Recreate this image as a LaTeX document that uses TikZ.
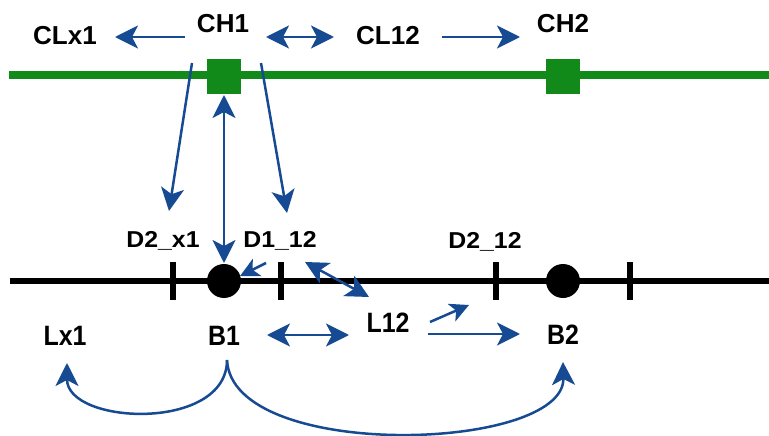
\documentclass[tikz,border=0pt]{standalone}
\usepackage{fontspec}
\setmainfont{Liberation Sans}
\usetikzlibrary{arrows.meta}
\definecolor{linkblue}{RGB}{22,74,146}
\definecolor{chgreen}{RGB}{18,138,26}
\begin{document}
\begin{tikzpicture}[x=1pt,y=-1pt,
  toplabel/.style={anchor=base,inner sep=0pt,font=\fontsize{26}{30}\selectfont\bfseries},
  midlabel/.style={anchor=base,inner sep=0pt,xscale=1.08,font=\fontsize{23}{28}\selectfont\bfseries},
  botlabel/.style={anchor=base,inner sep=0pt,xscale=0.89,font=\fontsize{28}{32}\selectfont\bfseries},
  link/.style={draw=linkblue,line width=2.5pt,-{Stealth[length=23pt,width=23pt,inset=6pt]}},
  dlink/.style={draw=linkblue,line width=2.5pt,{Stealth[length=23pt,width=23pt,inset=6pt]}-{Stealth[length=23pt,width=23pt,inset=6pt]}},
  slink/.style={draw=linkblue,line width=2.5pt,-{Stealth[length=19pt,width=19pt,inset=5pt]}},
  chbox/.style={fill=chgreen,minimum width=34pt,minimum height=35pt,inner sep=0pt},
  bus/.style={circle,fill=black,minimum size=34pt,inner sep=0pt},
  tick/.style={line width=6pt}]
\useasboundingbox (0,0) rectangle (769,436);

% lines
\draw[chgreen,line width=8pt] (9,75) -- (769,75);
\draw[black,line width=6pt] (10,281) -- (769,281);

% channel boxes
\node[chbox] (ch1box) at (224,76.5) {};
\node[chbox] (ch2box) at (563,76.5) {};

% segment ticks and buses
\draw[tick] (173,262) -- (173,300);
\draw[tick] (281,262) -- (281,300);
\draw[tick] (496,262) -- (496,300);
\draw[tick] (630,262) -- (630,300);
\node[bus] (b1dot) at (224,281) {};
\node[bus] (b2dot) at (563,281) {};

% labels
\node[toplabel] (clx1) at (65,45) {CLx1};
\node[toplabel] (ch1) at (223,33) {CH1};
\node[toplabel] (cl12) at (388,45) {CL12};
\node[toplabel] (ch2) at (563,33) {CH2};
\node[midlabel] (d2x1) at (163,247) {D2\_x1};
\node[midlabel] (d112) at (280,247) {D1\_12};
\node[midlabel] (d212) at (485,248) {D2\_12};
\node[botlabel] (lx1) at (65,345) {Lx1};
\node[botlabel] (b1) at (224,345) {B1};
\node[botlabel] (l12) at (388,332) {L12};
\node[botlabel] (b2) at (563,344) {B2};

% connector ends
\coordinate (ch1w) at (185,37);
\coordinate (clx1e) at (115,37);
\coordinate (ch1e) at (266,37);
\coordinate (cl12w) at (334,37);
\coordinate (cl12e) at (442,37);
\coordinate (ch2w) at (520,37);
\coordinate (gl) at (192,63);
\coordinate (gr) at (261,63);
\coordinate (d2x1t) at (169,211);
\coordinate (d112t) at (287,213);
\coordinate (ch1s) at (224,95);
\coordinate (b1n) at (224,263);
\coordinate (d112s) at (266,263);
\coordinate (b1ne) at (240,276);
\coordinate (d112e) at (305,262);
\coordinate (l12n) at (369,297);
\coordinate (b1e) at (267,335);
\coordinate (l12w) at (349,335);
\coordinate (l12e) at (428,334);
\coordinate (b2w) at (520,334);
\coordinate (l12ne) at (430,322);
\coordinate (d212s) at (469,305);
\coordinate (b1s) at (227,360);
\coordinate (lx1s) at (67,363);
\coordinate (b2s) at (563,362);

% connectors
\draw[link] (ch1w) -- (clx1e);
\draw[dlink] (ch1e) -- (cl12w);
\draw[link] (cl12e) -- (ch2w);
\draw[link] (gl) -- (d2x1t);
\draw[link] (gr) -- (d112t);
\draw[dlink] (ch1s) -- (b1n);
\draw[slink] (d112s) -- (b1ne);
\draw[dlink] (d112e) -- (l12n);
\draw[dlink] (b1e) -- (l12w);
\draw[link] (l12e) -- (b2w);
\draw[slink] (l12ne) -- (d212s);
\draw[link] (b1s) .. controls (227,432) and (67,425) .. (lx1s);
\draw[link] (b1s) .. controls (232,462) and (565,452) .. (b2s);
\end{tikzpicture}
\end{document}
